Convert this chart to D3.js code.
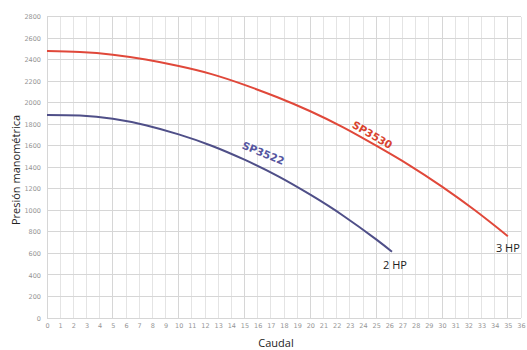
<!DOCTYPE html>
<html><head><meta charset="utf-8">
<script src="https://cdn.jsdelivr.net/npm/d3@7"></script>
<style>
html,body{margin:0;padding:0;background:#fff;}
svg{display:block;}
</style></head>
<body>
<svg id="chart" width="527" height="350"></svg>
<script>
// ---- data ----
const flowTicks = [0,1,2,3,4,5,6,7,8,9,10,11,12,13,14,15,16,17,18,19,20,21,22,23,24,25,26,27,28,29,30,31,32,33,34,35,36];
const pressureTicks = [0,200,400,600,800,1000,1200,1400,1600,1800,2000,2200,2400,2600,2800];

const flowSP3530 = [0,2.5,5,7.5,10,12.5,15,17.5,20,22.5,25,27.5,30,32.5,35];
const headSP3530 = [2480,2470,2445,2400,2340,2265,2165,2050,1920,1770,1600,1420,1220,1000,760];

const flowSP3522 = [0,2.5,5,7.5,10,12.5,15,17.5,20,22.5,25,26.2];
const headSP3522 = [1885,1880,1850,1790,1705,1600,1470,1320,1145,950,730,615];

const seriesNames = ["SP3530","SP3522"];
const powerLabels = ["3 HP","2 HP"];
const xTitle = "Caudal";
const yTitle = "Presión manométrica";

// ---- drawing ----
const svg = d3.select("#chart");
const x = d3.scaleLinear().domain([0,36]).range([47,521]);
const y = d3.scaleLinear().domain([0,2800]).range([318,16.5]);

// grid
svg.append("g").selectAll("line").data(flowTicks).join("line")
  .attr("x1", d=>x(d)).attr("x2", d=>x(d))
  .attr("y1", y(2800)).attr("y2", y(0))
  .attr("stroke", d=> (d%5===0 ? "#d6d6d6" : "#e4e4e4")).attr("stroke-width",1)
  .attr("shape-rendering","crispEdges");
svg.append("g").selectAll("line").data(pressureTicks).join("line")
  .attr("x1", x(0)).attr("x2", x(36))
  .attr("y1", d=>y(d)).attr("y2", d=>y(d))
  .attr("stroke","#d6d6d6").attr("stroke-width",1)
  .attr("shape-rendering","crispEdges");

// axes labels via d3 axes
const xAxis = d3.axisBottom(x).tickValues(flowTicks).tickSize(0).tickPadding(0).tickFormat(d3.format("d"));
const gx = svg.append("g").attr("transform","translate(0,326)").call(xAxis);
gx.select(".domain").remove();
gx.selectAll("text").attr("font-family","DejaVu Sans, sans-serif").attr("font-size","6.5px").attr("fill","#959595").attr("dy","0.35em");

const yAxis = d3.axisLeft(y).tickValues(pressureTicks).tickSize(0).tickPadding(0).tickFormat(d3.format("d"));
const gy = svg.append("g").attr("transform","translate(41,0)").call(yAxis);
gy.select(".domain").remove();
gy.selectAll("text").attr("font-family","DejaVu Sans, sans-serif").attr("font-size","6.5px").attr("fill","#959595");

// curves
const line = d3.line().x(d=>x(d[0])).y(d=>y(d[1])).curve(d3.curveNatural);
const redData = flowSP3530.map((q,i)=>[q, headSP3530[i]]);
const blueData = flowSP3522.map((q,i)=>[q, headSP3522[i]]);

svg.append("path").attr("d", line(redData)).attr("fill","none")
  .attr("stroke","#e0483a").attr("stroke-width",2);
svg.append("path").attr("d", line(blueData)).attr("fill","none")
  .attr("stroke","#4f4f88").attr("stroke-width",2);

// series labels
svg.append("text").text(seriesNames[0])
  .attr("transform", `translate(${x(24.6)+1},${y(1630)-7}) rotate(30)`)
  .attr("text-anchor","middle").attr("dominant-baseline","middle")
  .attr("font-family","DejaVu Sans, sans-serif").attr("font-weight","bold")
  .attr("font-size","10.5px").attr("fill","#d9432f");
svg.append("text").text(seriesNames[1])
  .attr("transform", `translate(${x(16.4)},${y(1386)-15}) rotate(22)`)
  .attr("text-anchor","middle").attr("dominant-baseline","middle")
  .attr("font-family","DejaVu Sans, sans-serif").attr("font-weight","bold")
  .attr("font-size","10.5px").attr("fill","#55559f");

// power labels
svg.append("text").text(powerLabels[0])
  .attr("x", x(35)).attr("y", y(760)+16)
  .attr("text-anchor","middle")
  .attr("font-family","Open Sans, sans-serif").attr("font-size","11px").attr("fill","#222");
svg.append("text").text(powerLabels[1])
  .attr("x", x(26.2)+3).attr("y", y(615)+17)
  .attr("text-anchor","middle")
  .attr("font-family","Open Sans, sans-serif").attr("font-size","11px").attr("fill","#222");

// axis titles
svg.append("text").text(xTitle)
  .attr("x", 276).attr("y", 347)
  .attr("text-anchor","middle")
  .attr("font-family","Open Sans, sans-serif").attr("font-size","11px").attr("fill","#222");
svg.append("text").text(yTitle)
  .attr("transform","translate(20,170) rotate(-90)")
  .attr("text-anchor","middle")
  .attr("font-family","Open Sans, sans-serif").attr("font-size","11px").attr("fill","#222");
</script>
</body></html>
